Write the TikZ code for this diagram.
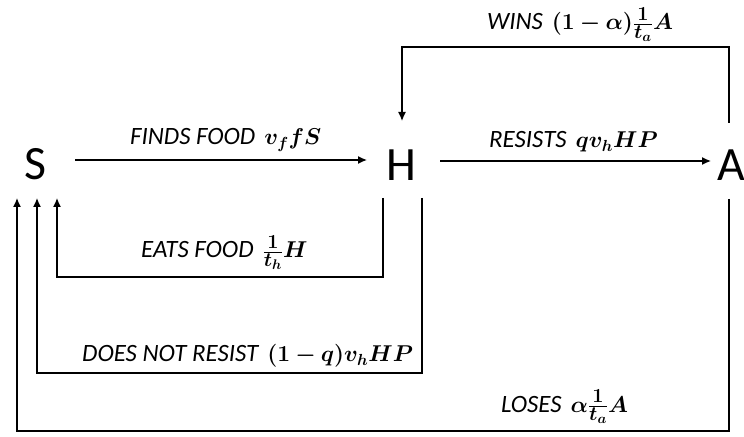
\RequirePackage{fix-cm}
\documentclass[tikz,border=0pt]{standalone}
\usepackage{fontspec}
\setmainfont{Carlito}
\usepackage{amsmath}
\usepackage{bm}
\usetikzlibrary{arrows.meta}
\newcommand{\mth}[1]{\hspace{9bp}{\fontsize{23}{27}\selectfont$#1$}}
\newcommand{\fr}[1]{\frac{\mbox{\fontsize{20}{20}\selectfont$\bm{1}$}}{\mbox{\fontsize{20}{20}\selectfont$\bm{t}_{\bm{#1}}$}}}
\begin{document}
\begin{tikzpicture}[x=1bp,y=-1bp,
  arr/.style={line width=1.3bp,-{Latex[length=9bp,width=8bp]}},
  big/.style={font=\fontsize{48}{52}\selectfont, inner sep=0pt},
  lab/.style={font=\fontsize{25}{29}\selectfont\itshape, inner sep=0pt, anchor=base west}]
\useasboundingbox (0,0) rectangle (744,437);
\node[big] (S) at (35,164) {S};
\node[big] (H) at (401,165) {H};
\node[big] (A) at (731,165) {A};
% main arrows
\coordinate (s1) at (75,160);
\coordinate (h1) at (367,160);
\coordinate (h2) at (440,161);
\coordinate (a1) at (711,161);
\draw[arr] (s1) -- (h1);
\draw[arr] (h2) -- (a1);
% wins
\coordinate (wa) at (729,123);
\coordinate (wh) at (402,121);
\draw[arr] (wa) |- (402,47) -- (wh);
% eats food
\coordinate (eh) at (383,198);
\coordinate (es) at (57,198);
\draw[arr] (eh) |- (57,277) -- (es);
% does not resist
\coordinate (dh) at (422,198);
\coordinate (ds) at (37,198);
\draw[arr] (dh) |- (37,373) -- (ds);
% loses
\coordinate (la) at (729,199);
\coordinate (ls) at (17,198);
\draw[arr] (la) |- (17,431) -- (ls);
% labels
\node[lab] (l1) at (130,145) {FINDS FOOD\mth{\bm{v_f f S}}};
\node[lab] (l2) at (489,148) {RESISTS\mth{\bm{q v_h H P}}};
\node[lab] (l3) at (487,30) {WINS\mth{\bm{(1-\alpha)}\fr{a}\bm{A}}};
\node[lab] (l4) at (141,258) {EATS FOOD\mth{\fr{h}\bm{H}}};
\node[lab] (l5) at (82,362) {DOES NOT RESIST\mth{\bm{(1-q)v_h H P}}};
\node[lab] (l6) at (501,412) {LOSES\mth{\bm{\alpha}\fr{a}\bm{A}}};
\end{tikzpicture}
\end{document}
